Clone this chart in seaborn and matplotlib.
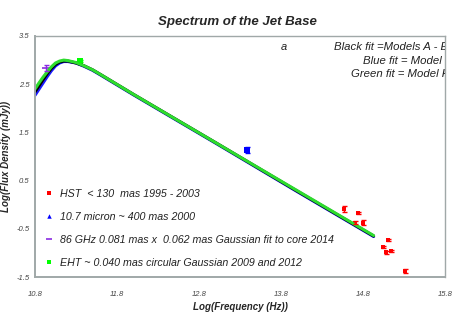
import matplotlib
matplotlib.use("Agg")
import matplotlib.pyplot as plt
import seaborn as sns
import pandas as pd

# model fit curves
fit_x = [10.8, 10.85, 10.9, 10.95, 11.0, 11.05, 11.1, 11.15, 11.2, 11.3, 11.4, 11.5, 11.6, 12.0, 13.0, 14.0, 14.93]
green_fit = [2.40, 2.53, 2.65, 2.76, 2.86, 2.94, 2.98, 3.00, 2.99, 2.95, 2.88, 2.80, 2.70, 2.29, 1.29, 0.29, -0.64]
black_fit = [2.34, 2.47, 2.60, 2.72, 2.83, 2.91, 2.96, 2.98, 2.98, 2.94, 2.88, 2.80, 2.70, 2.29, 1.29, 0.28, -0.65]
blue_fit = [2.27, 2.40, 2.53, 2.66, 2.78, 2.88, 2.94, 2.97, 2.97, 2.94, 2.87, 2.79, 2.69, 2.28, 1.28, 0.27, -0.66]

# observations
hst_x = [14.57, 14.74, 14.70, 14.80, 15.10, 15.04, 15.08, 15.14, 15.31]
hst_y = [-0.09, -0.18, -0.37, -0.37, -0.74, -0.88, -0.99, -0.96, -1.37]
hst_err = [0.06, 0.02, 0.03, 0.06, 0.02, 0.02, 0.03, 0.02, 0.04]
ir_x, ir_y, ir_err = [13.39], [1.14], [0.06]
mm_x, mm_y, mm_err = [10.93], [2.84], [0.06]
eht_x, eht_y, eht_err = [11.35], [2.98], [0.02]

labels = ["HST  < 130  mas 1995 - 2003",
          "10.7 micron ~ 400 mas 2000",
          "86 GHz 0.081 mas x  0.062 mas Gaussian fit to core 2014",
          "EHT ~ 0.040 mas circular Gaussian 2009 and 2012"]
fit_notes = ["Black fit =Models A - E", "Blue fit = Model F", "Green fit = Model H"]

xticks = [10.8, 11.8, 12.8, 13.8, 14.8, 15.8]
yticks = [3.5, 2.5, 1.5, 0.5, -0.5, -1.5]

sns.set_style("white")
plt.rcParams['font.family'] = ['Liberation Sans', 'DejaVu Sans']

fig = plt.figure(figsize=(4.57, 3.13), dpi=100)
ax = fig.add_axes([0.0766, 0.115, 0.897, 0.770])

fits = pd.DataFrame({"x": fit_x, "blue": blue_fit, "black": black_fit, "green": green_fit})
for col, c in [("blue", "#1a1aff"), ("black", "#000000"), ("green", "#2edc2e")]:
    sns.lineplot(data=fits, x="x", y=col, color=c, lw=2.2, ax=ax, legend=False)

series = [
    (hst_x, hst_y, hst_err, "#ff0000", "s", 2.2, labels[0]),
    (ir_x, ir_y, ir_err, "#0000ff", "^", 3.2, labels[1]),
    (mm_x, mm_y, mm_err, "#8a2be2", "_", 5, labels[2]),
    (eht_x, eht_y, eht_err, "#00ff00", "s", 3.2, labels[3]),
]
handles = []
for xs, ys, es, c, m, ms, lab in series:
    ax.errorbar(xs, ys, yerr=es, fmt="none", ecolor=c, elinewidth=1, capsize=1.8, capthick=1)
    sns.scatterplot(x=xs, y=ys, color=c, marker="s" if m != "_" else "_", s=ms ** 2 * 1.5,
                    linewidth=1.2 if m == "_" else 0, ax=ax, legend=False)
    h, = ax.plot([], [], ls="none", marker=m, color=c, ms=ms if m != "_" else 5,
                 mew=1.2 if m == "_" else 0)
    handles.append(h)

leg = ax.legend(handles, labels, loc="upper left", bbox_to_anchor=(0.0, 0.405),
                frameon=False, handlelength=0.8, handletextpad=0.6, labelspacing=1.2,
                prop={"style": "italic", "size": 7.7})
for t in leg.get_texts():
    t.set_color("#222222")

ax.text(0.60, 0.955, "a", transform=ax.transAxes, fontsize=8, style="italic", color="#222222",
        va="center")
for i, note in enumerate(fit_notes):
    xs0 = [0.729, 0.800, 0.772][i]
    ax.text(xs0, 0.955 - i * 0.057, note, transform=ax.transAxes, fontsize=8.2, style="italic",
            color="#222222", va="center", clip_on=True)

ax.set_xlim(10.8, 15.8)
ax.set_ylim(-1.5, 3.5)
ax.set_xticks(xticks)
ax.set_yticks(yticks)
ax.set_xticklabels([f"{v:.1f}" for v in xticks], fontsize=5.5, style="italic", color="#444444")
ax.set_yticklabels([f"{v:.1f}" for v in yticks], fontsize=5.5, style="italic", color="#444444")
ax.tick_params(axis="x", direction="out", length=3, width=0.8, color="#999999", pad=7)
ax.tick_params(axis="y", direction="out", length=2, width=0.8, color="#999999", pad=2)
for s in ax.spines.values():
    s.set_color("#a0a8a8")
    s.set_linewidth(1.0)
ax.spines["left"].set_linewidth(1.4)
ax.spines["bottom"].set_linewidth(1.4)

ax.set_xlabel("Log(Frequency (Hz))", fontsize=7, fontweight="bold", style="italic", labelpad=3)
ax.set_ylabel("Log(Flux Density (mJy))", fontsize=7, fontweight="bold", style="italic")
ax.yaxis.set_label_coords(-0.058, 0.5)
fig.suptitle("Spectrum of the Jet Base", x=0.52, y=0.95, fontsize=9.5, fontweight="bold", style="italic")

fig.savefig("out.png", dpi=100)
